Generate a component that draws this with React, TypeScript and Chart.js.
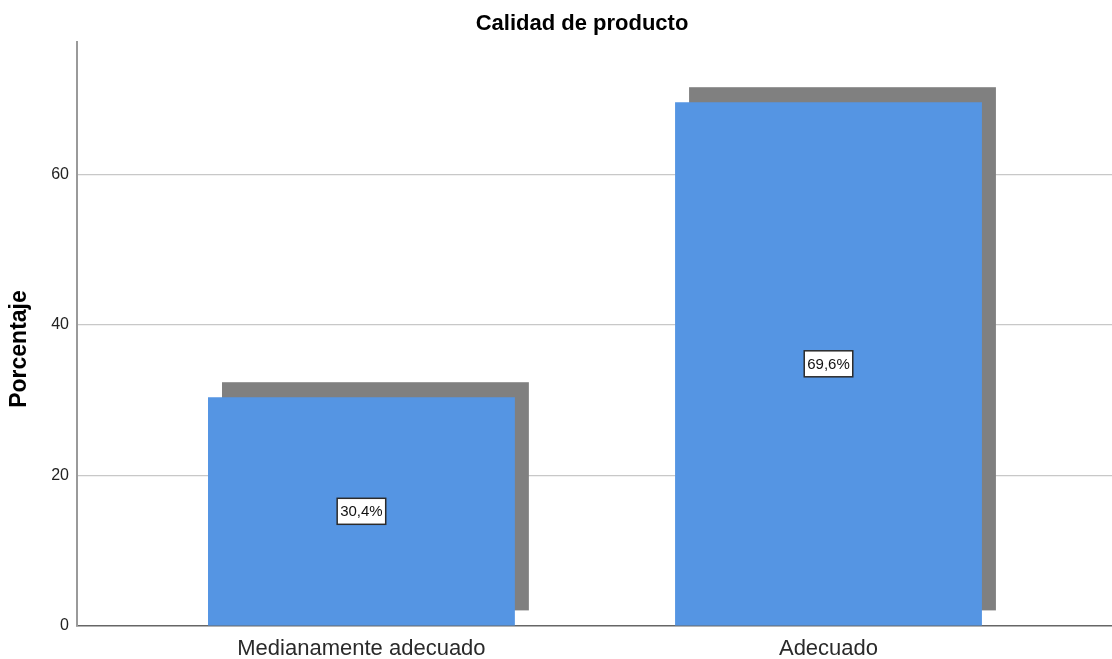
import React, { useEffect, useRef } from "react";
import { Chart, registerables } from "chart.js";

Chart.register(...registerables);

// Product quality survey: share of responses per rating
const categories: string[] = ["Medianamente adecuado", "Adecuado"];
const percentages: number[] = [30.4, 69.6];
const yTicks: number[] = [0, 20, 40, 60];

const chartTitle = "Calidad de producto";
const yAxisTitle = "Porcentaje";

const FONT = "Arial, 'Liberation Sans', sans-serif";
const BAR_COLOR = "#5595e3";
const SHADOW_COLOR = "#808080";

// Grey drop shadow behind each bar, shifted right and up
const shadowPlugin = {
  id: "barShadow",
  beforeDatasetsDraw(chart: any) {
    const ctx = chart.ctx;
    const meta = chart.getDatasetMeta(0);
    ctx.save();
    ctx.fillStyle = SHADOW_COLOR;
    meta.data.forEach((bar: any) => {
      const { x, y, base, width } = bar.getProps(["x", "y", "base", "width"], true);
      ctx.fillRect(x - width / 2 + 14, y - 15, width, base - y);
    });
    ctx.restore();
  },
};

// Boxed percentage label in the middle of each bar
const valueLabelPlugin = {
  id: "valueLabels",
  afterDatasetsDraw(chart: any) {
    const ctx = chart.ctx;
    const meta = chart.getDatasetMeta(0);
    ctx.save();
    ctx.font = `15px ${FONT}`;
    ctx.textAlign = "center";
    ctx.textBaseline = "middle";
    meta.data.forEach((bar: any, i: number) => {
      const { x, y, base } = bar.getProps(["x", "y", "base"], true);
      const text = percentages[i].toFixed(1).replace(".", ",") + "%";
      const cy = (y + base) / 2;
      const w = ctx.measureText(text).width + 6;
      const h = 26;
      ctx.fillStyle = "#ffffff";
      ctx.fillRect(x - w / 2, cy - h / 2, w, h);
      ctx.strokeStyle = "#2b2b2b";
      ctx.lineWidth = 1.5;
      ctx.strokeRect(x - w / 2, cy - h / 2, w, h);
      ctx.fillStyle = "#111111";
      ctx.fillText(text, x, cy + 1);
    });
    ctx.restore();
  },
};

// Chart title and rotated y-axis title
const titlesPlugin = {
  id: "titles",
  afterDraw(chart: any) {
    const ctx = chart.ctx;
    ctx.save();
    ctx.fillStyle = "#000000";
    ctx.textAlign = "center";
    ctx.textBaseline = "middle";
    ctx.font = `bold 22px ${FONT}`;
    ctx.fillText(chartTitle, 582, 24);
    ctx.font = `bold 23px ${FONT}`;
    ctx.translate(20, 349);
    ctx.rotate(-Math.PI / 2);
    ctx.fillText(yAxisTitle, 0, 0);
    ctx.restore();
  },
};

export default function App() {
  const canvasRef = useRef<HTMLCanvasElement | null>(null);

  useEffect(() => {
    if (!canvasRef.current) return;
    const chart = new Chart(canvasRef.current, {
      type: "bar",
      data: {
        datasets: [
          {
            data: percentages.map((v, i) => ({ x: i, y: v })),
            backgroundColor: BAR_COLOR,
            borderWidth: 0,
            categoryPercentage: 1,
            barPercentage: 0.657,
          },
        ],
      },
      options: {
        animation: false,
        responsive: true,
        maintainAspectRatio: false,
        layout: { padding: { top: 42, left: 0, right: 0, bottom: 0 } },
        plugins: {
          legend: { display: false },
          tooltip: { enabled: false },
          title: { display: false },
        },
        scales: {
          x: {
            type: "linear",
            min: -0.609,
            max: 1.607,
            offset: false,
            afterBuildTicks: (scale: any) => {
              scale.ticks = categories.map((_, i) => ({ value: i }));
            },
            afterFit: (scale: any) => {
              scale.height = 33;
            },
            grid: { display: true, drawOnChartArea: false, drawTicks: false, offset: false },
            border: { display: true, color: "#666666", width: 1.5 },
            ticks: {
              autoSkip: false,
              maxRotation: 0,
              padding: 10,
              color: "#2a2a2a",
              font: { family: FONT, size: 22 },
              callback: (value: any) => categories[value as number] ?? "",
            },
          },
          y: {
            type: "linear",
            min: 0,
            max: 77.6,
            afterBuildTicks: (scale: any) => {
              scale.ticks = yTicks.map((v) => ({ value: v }));
            },
            afterFit: (scale: any) => {
              scale.width = 77;
            },
            grid: {
              drawTicks: false,
              color: (c: any) => (c.tick && c.tick.value === 0 ? "rgba(0,0,0,0)" : "#c8c8c8"),
              lineWidth: 1.2,
            },
            border: { display: true, color: "#9a9a9a", width: 2 },
            ticks: {
              padding: 8,
              color: "#222222",
              font: { family: FONT, size: 16 },
            },
          },
        },
      },
      plugins: [shadowPlugin, valueLabelPlugin, titlesPlugin],
    } as any);
    return () => chart.destroy();
  }, []);

  return (
    <div style={{ position: "fixed", left: 0, top: 0, width: 1112, height: 659, background: "#ffffff" }}>
      <canvas ref={canvasRef} />
    </div>
  );
}
